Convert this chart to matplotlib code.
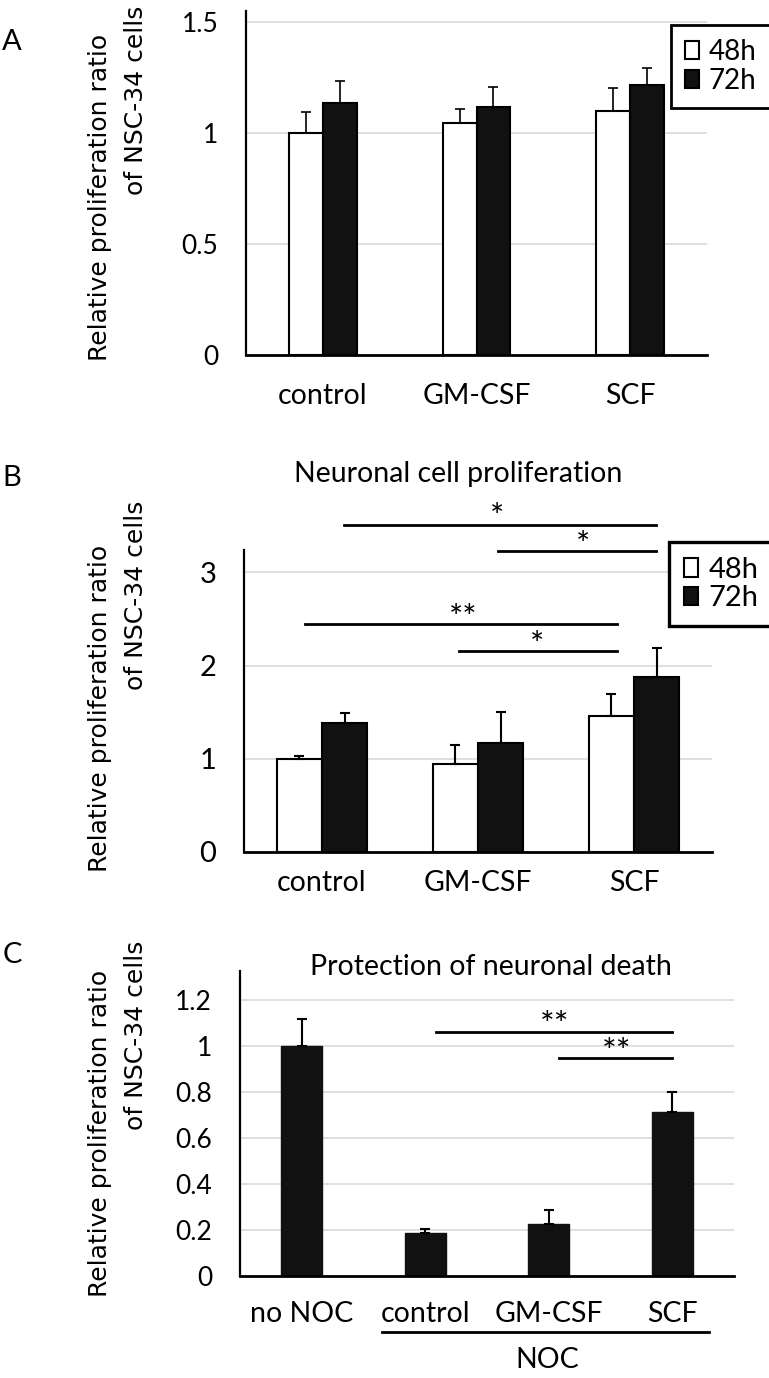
import numpy as np
import matplotlib
matplotlib.use('Agg')
import matplotlib.pyplot as plt
from matplotlib.ticker import FuncFormatter

plt.rcParams['font.family'] = ['Lato', 'DejaVu Sans']

# ---- data ----
groups = ['control', 'GM-CSF', 'SCF']
series = ['48h', '72h']

a_48 = [1.00, 1.045, 1.10]
a_48_err = [0.095, 0.06, 0.10]
a_72 = [1.135, 1.114, 1.213]
a_72_err = [0.10, 0.09, 0.08]

b_48 = [1.00, 0.946, 1.464]
b_48_err = [0.03, 0.20, 0.23]
b_72 = [1.386, 1.168, 1.879]
b_72_err = [0.10, 0.33, 0.31]

c_groups = ['no NOC', 'control', 'GM-CSF', 'SCF']
c_vals = [1.00, 0.188, 0.225, 0.71]
c_err = [0.114, 0.015, 0.06, 0.09]

# significance bars: start x, end x, height, label, label x, label y
b_sig_x0 = [0.14, 1.13, -0.11, 0.88]
b_sig_x1 = [2.14, 2.14, 1.89, 1.89]
b_sig_y = [3.506, 3.227, 2.444, 2.157]
b_sig_txt = ['*', '*', '**', '*']
b_sig_tx = [1.12, 1.676, 0.904, 1.38]
b_sig_ty = [3.58, 3.28, 2.50, 2.21]

c_sig_x0 = [1.085, 2.08]
c_sig_x1 = [3.0, 3.0]
c_sig_y = [1.061, 0.945]
c_sig_txt = ['**', '**']
c_sig_tx = [2.05, 2.55]
c_sig_ty = [1.085, 0.97]

ylabel_1 = 'Relative proliferation ratio'
ylabel_2 = 'of NSC-34 cells'

W, H = 769, 1378
fig = plt.figure(figsize=(W / 100, H / 100), dpi=100)


def px_axes(left, right, top, bottom):
    return fig.add_axes([left / W, 1 - bottom / H, (right - left) / W, (bottom - top) / H])


def style(ax, yticks, ylim, tick_size, xpad):
    ax.set_ylim(0, ylim)
    ax.set_yticks(yticks)
    ax.yaxis.set_major_formatter(FuncFormatter(lambda v, p: '%g' % round(v, 1)))
    ax.yaxis.grid(True, color='#d9d9d9', lw=1.2)
    ax.set_axisbelow(True)
    for s in ['top', 'right']:
        ax.spines[s].set_visible(False)
    ax.spines['left'].set_linewidth(1.6)
    ax.spines['bottom'].set_linewidth(2.0)
    ax.tick_params(axis='y', length=0, pad=20, labelsize=tick_size)
    ax.tick_params(axis='x', length=0, pad=xpad, labelsize=20.5)


def ylabels(yc1, yc2):
    fig.text(100 / W, 1 - yc1 / H, ylabel_1, rotation=90, ha='center', va='center',
             fontsize=18, family='DejaVu Sans')
    fig.text(136 / W, 1 - yc2 / H, ylabel_2, rotation=90, ha='center', va='center',
             fontsize=18, family='DejaVu Sans')


def add_legend(ax, left, top, size, lw):
    leg = ax.legend(loc='upper left', bbox_to_anchor=(left / W, 1 - top / H), bbox_transform=fig.transFigure,
                    fontsize=size, frameon=True, fancybox=False, edgecolor='black', framealpha=1,
                    handlelength=0.5, handleheight=0.6, handletextpad=0.35, labelspacing=0.1,
                    borderpad=0.5, borderaxespad=0)
    leg.get_frame().set_linewidth(lw)


ebar = dict(fmt='none', ecolor='black', elinewidth=1.2, capsize=3.5, capthick=1.2)
ebar_b = dict(ebar, elinewidth=1.5, capthick=1.5)
edge = dict(edgecolor='black', linewidth=1.5)

# ---- panel A ----
ax = px_axes(246, 707, 10.5, 355)
x = np.arange(len(groups))
w = 0.22
ax.bar(x - w / 2, a_48, w, color='white', label=series[0], **edge)
ax.bar(x + w / 2, a_72, w, color='#111111', label=series[1], **edge)
ax.errorbar(x - w / 2, a_48, yerr=[np.zeros(3), a_48_err], **ebar)
ax.errorbar(x + w / 2, a_72, yerr=[np.zeros(3), a_72_err], **ebar)
ax.set_xlim(-0.5, 2.5)
ax.set_xticks(x)
ax.set_xticklabels(groups)
style(ax, [0, 0.5, 1, 1.5], 1.55, 19, 20)
add_legend(ax, 671, 25, 20, 2)
fig.text(12 / W, 1 - 42 / H, 'A', ha='center', va='center', fontsize=21)
ylabels(197, 100)

# ---- panel B ----
ax = px_axes(244, 712, 550, 852)
w = 0.29
ax.bar(x - w / 2, b_48, w, color='white', label=series[0], **edge)
ax.bar(x + w / 2, b_72, w, color='#111111', label=series[1], **edge)
ax.errorbar(x - w / 2, b_48, yerr=[np.zeros(3), b_48_err], **ebar_b)
ax.errorbar(x + w / 2, b_72, yerr=[np.zeros(3), b_72_err], **ebar_b)
ax.set_xlim(-0.5, 2.5)
ax.set_xticks(x)
ax.set_xticklabels(groups)
style(ax, [0, 1, 2, 3], 3.24, 21, 13)
for x0, x1, y, t, tx, ty in zip(b_sig_x0, b_sig_x1, b_sig_y, b_sig_txt, b_sig_tx, b_sig_ty):
    ax.plot([x0, x1], [y, y], color='black', lw=2, clip_on=False)
    ax.text(tx, ty, t, ha='center', va='center', fontsize=24)
add_legend(ax, 669, 542, 21, 2.4)
fig.text(458 / W, 1 - 474 / H, 'Neuronal cell proliferation', ha='center', va='center', fontsize=20.5)
fig.text(12 / W, 1 - 478 / H, 'B', ha='center', va='center', fontsize=21)
ylabels(708, 595)

# ---- panel C ----
ax = px_axes(240, 734, 971, 1276)
xc = np.arange(len(c_groups))
ax.bar(xc, c_vals, 0.33, color='#111111', edgecolor='#111111', linewidth=1)
ax.errorbar(xc, c_vals, yerr=[np.zeros(4), c_err], **ebar_b)
ax.set_xlim(-0.5, 3.5)
ax.set_xticks(xc)
ax.set_xticklabels(c_groups)
style(ax, [0, 0.2, 0.4, 0.6, 0.8, 1.0, 1.2], 1.324, 19, 18)
for x0, x1, y, t, tx, ty in zip(c_sig_x0, c_sig_x1, c_sig_y, c_sig_txt, c_sig_tx, c_sig_ty):
    ax.plot([x0, x1], [y, y], color='black', lw=2, clip_on=False)
    ax.text(tx, ty, t, ha='center', va='center', fontsize=25)
trans = ax.get_xaxis_transform()
ax.plot([0.65, 3.3], [-0.184, -0.184], color='black', lw=2, transform=trans, clip_on=False)
ax.text(1.99, -0.275, 'NOC', ha='center', va='center', fontsize=20.5, transform=trans)
fig.text(491 / W, 1 - 967 / H, 'Protection of neuronal death', ha='center', va='center', fontsize=20.5)
fig.text(12 / W, 1 - 955 / H, 'C', ha='center', va='center', fontsize=21)
ylabels(1133, 1035)

fig.savefig('out.png', dpi=100)
